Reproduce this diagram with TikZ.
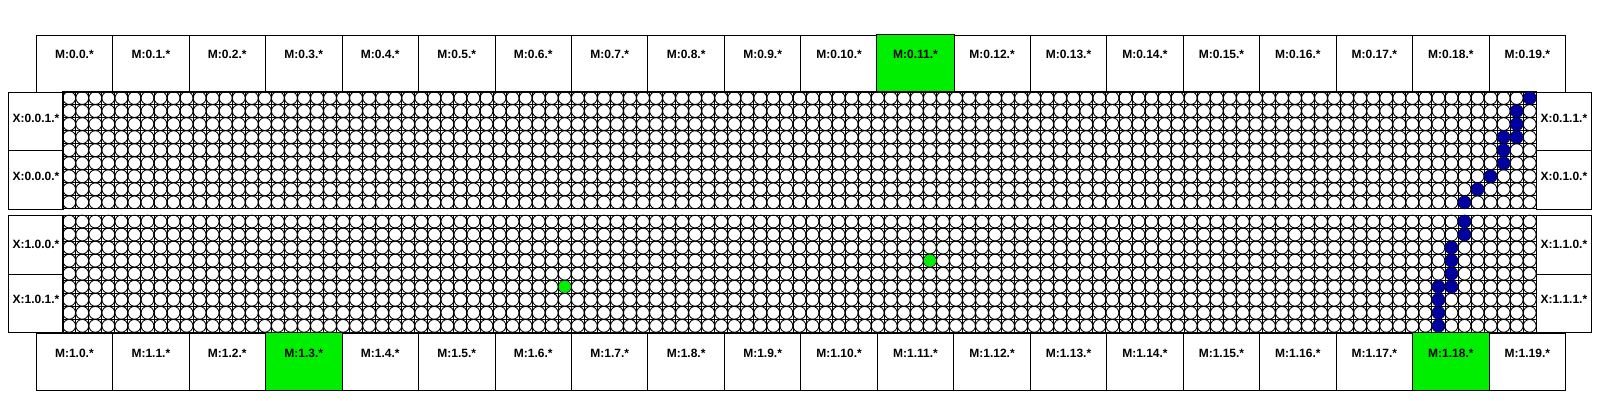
\documentclass[tikz,border=0pt]{standalone}
\usepackage{fontspec}
\setmainfont{Liberation Sans}
\definecolor{hit}{RGB}{0,238,0}
\definecolor{trace}{RGB}{0,0,160}

\begin{document}
\begin{tikzpicture}[x=1pt,y=-1pt,
    mbox/.style={draw,line width=0.9pt,minimum width=76.47pt,minimum height=57pt,anchor=north west,inner sep=0pt},
    xbox/.style={draw,line width=0.9pt,minimum width=54.4pt,minimum height=58.68pt,anchor=north west,inner sep=0pt},
    tag/.style={font=\bfseries\fontsize{12}{14}\selectfont,inner sep=0pt},
    gridline/.style={line width=0.9pt},
    cell/.style={line width=0.85pt}]
  \useasboundingbox (0,0) rectangle (1600,400);
  \def\gx{62.7}
  \def\p{13.04}
  % memory banks
  \foreach \i in {0,...,19} {
    \node[mbox] (mt\i) at (35.7+\i*76.47,34.5) {};
    \node[tag] at ([yshift=-20pt]mt\i.north) {M:0.\i.*};
    \node[mbox] (mb\i) at (35.7+\i*76.47,332.7) {};
    \node[tag] at ([yshift=-21pt]mb\i.north) {M:1.\i.*};
  }
  \fill[hit,draw=black,line width=0.9pt] (mt11.north west) rectangle (mt11.south east);
  \node[tag] at ([yshift=-20pt]mt11.north) {M:0.11.*};
  \fill[hit,draw=black,line width=0.9pt] (mb3.north west) rectangle (mb3.south east);
  \node[tag] at ([yshift=-21pt]mb3.north) {M:1.3.*};
  \fill[hit,draw=black,line width=0.9pt] (mb18.north west) rectangle (mb18.south east);
  \node[tag] at ([yshift=-21pt]mb18.north) {M:1.18.*};
  % crossbar ports
  \foreach \b/\top in {0/91.5,1/215} {
    \node[xbox] (xl\b a) at (8.3,\top) {};
    \node[xbox] (xl\b b) at (8.3,\top+58.68) {};
    \node[xbox] (xr\b a) at (\gx+1473.5,\top) {};
    \node[xbox] (xr\b b) at (\gx+1473.5,\top+58.68) {};
    \draw[line width=0.9pt] (\gx,\top) rectangle (\gx+1473.5,\top+117.36);
    \foreach \c in {0,...,113}
      \draw[gridline] (\gx+\c*\p,\top) -- ++(0,117.36);
    \foreach \r in {1,...,8}
      \draw[gridline] (\gx,\top+\r*\p) -- ++(1473.5,0);
    \foreach \c in {0,...,112}
      \foreach \r in {0,...,8}
        \draw[cell] (\gx+\c*\p+\p/2,\top+\r*\p+\p/2) circle[radius=6.4pt];
  }
  \node[tag] at ([yshift=3pt]xl0a.center) {X:0.0.1.*};
  \node[tag] at ([yshift=4pt]xl0b.center) {X:0.0.0.*};
  \node[tag] at ([yshift=3pt]xr0a.center) {X:0.1.1.*};
  \node[tag] at ([yshift=4pt]xr0b.center) {X:0.1.0.*};
  \node[tag] at ([yshift=0pt]xl1a.center) {X:1.0.0.*};
  \node[tag] at ([yshift=4pt]xl1b.center) {X:1.0.1.*};
  \node[tag] at ([yshift=0pt]xr1a.center) {X:1.1.0.*};
  \node[tag] at ([yshift=4pt]xr1b.center) {X:1.1.1.*};
  % routed path
  \foreach \c/\r in {112/0,111/1,111/2,110/3,111/3,110/4,110/5,109/6,108/7,107/8}
    \fill[trace] (\gx+\c*\p+\p/2,91.5+\r*\p+\p/2) circle[radius=6.3pt];
  \foreach \c/\r in {107/0,107/1,106/2,106/3,106/4,105/5,106/5,105/6,105/7,105/8}
    \fill[trace] (\gx+\c*\p+\p/2,215+\r*\p+\p/2) circle[radius=6.3pt];
  \foreach \c/\r in {38/5,66/3}
    \fill[hit] (\gx+\c*\p+\p/2,215+\r*\p+\p/2) circle[radius=6pt];
\end{tikzpicture}
\end{document}
